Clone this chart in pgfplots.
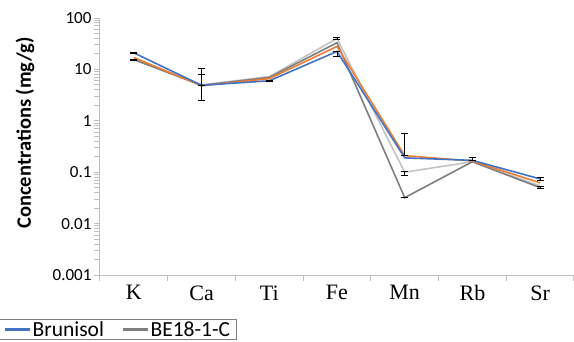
\documentclass[border=0pt]{standalone}
\usepackage{pgfplots}
\pgfplotsset{compat=1.18}
\usepackage{fontspec}
\setmainfont{Liberation Serif}
\newfontfamily\calib{Carlito}
\definecolor{cblue}{HTML}{4472C4}
\definecolor{corange}{HTML}{ED7D31}
\definecolor{cdgray}{HTML}{7F7F7F}
\definecolor{clgray}{HTML}{C3C3C3}
\definecolor{caxis}{HTML}{BFBFBF}
\begin{document}
\begin{tikzpicture}[x=1pt,y=1pt]
\begin{axis}[
  at={(0,0)}, anchor=south west,
  scale only axis, width=474pt, height=257pt,
  xmin=-0.5, xmax=6.5,
  ymode=log, ymin=0.001, ymax=100,
  axis lines*=left,
  axis line style={draw=caxis, line width=1pt},
  tick align=outside,
  xtick={0,...,6},
  xticklabels={K,Ca,Ti,Fe,Mn,Rb,Sr},
  major x tick style={draw=none},
  minor xtick={-0.5,0.5,...,6.5},
  minor x tick style={draw=caxis, line width=1pt},
  minor tick length=6pt,
  ytick={0.001,0.01,0.1,1,10,100},
  yticklabels={0.001,0.01,0.1,1,10,100},
  minor ytick={},
  y tick style={draw=caxis, line width=1pt},
  major tick length=6pt,
  xticklabel style={font=\fontsize{22}{22}\selectfont, yshift=-1pt},
  yticklabel style={font=\calib\fontsize{17}{17}\selectfont, xshift=1pt},
  ylabel={Concentrations (mg/g)},
  ylabel style={font=\calib\bfseries\fontsize{20.5}{20.5}\selectfont, at={(axis description cs:-0.158,0.553)}, anchor=center},
  legend style={at={(axis description cs:0.289,-0.171)}, anchor=north east,
    draw=gray, line width=0.8pt, font=\calib\fontsize{21.5}{21.5}\selectfont,
    inner xsep=5pt, inner ysep=0pt, legend columns=2,
    nodes={inner xsep=1.5pt},
    /tikz/every even column/.append style={column sep=16pt}},
  reverse legend,
  legend cell align=left,
  legend image code/.code={\draw[#1, line width=2.6pt] (0pt,0pt) -- (25pt,0pt);},
  every axis plot/.append style={line width=1.6pt, mark=none},
]
% light gray series
\addplot[clgray, forget plot] coordinates {(0,16) (1,5.0) (2,7.2) (3,40) (4,0.10) (5,0.16) (6,0.054)};
% dark gray series (BE18-1-C)
\addplot[cdgray] coordinates {(0,15.5) (1,4.9) (2,7.0) (3,33) (4,0.032) (5,0.16) (6,0.050)};
% orange series
\addplot[corange, forget plot] coordinates {(0,17) (1,4.8) (2,6.6) (3,28) (4,0.21) (5,0.165) (6,0.062)};
% blue series (Brunisol)
\addplot[cblue] coordinates {(0,21) (1,4.9) (2,6.0) (3,22.4) (4,0.19) (5,0.17) (6,0.074)};
\legend{BE18-1-C,Brunisol}
% error bars
\addplot[forget plot, draw=none, mark=none,
  error bars/.cd, y dir=both, y explicit,
  error bar style={draw=black, line width=0.7pt},
  error mark options={draw=black, rotate=90, mark size=3.5pt, line width=0.7pt}]
coordinates {
 (0,21) += (0,0.8) -= (0,0.8)
 (0,15.5) += (0,0.2) -= (0,0.4)
 (1,4.8) += (0,5.8) -= (0,2.3)
 (1,4.9) += (0,3.0) -= (0,0)
 (2,6.0) += (0,0) -= (0,0.2)
 (3,40) += (0,1.5) -= (0,1)
 (3,22.4) += (0,0) -= (0,4.4)
 (4,0.21) += (0,0.35) -= (0,0)
 (4,0.10) += (0,0.006) -= (0,0.014)
 (4,0.032) += (0,0) -= (0,0)
 (5,0.17) += (0,0.025) -= (0,0)
 (6,0.074) += (0,0.004) -= (0,0.003)
 (6,0.05) += (0,0.003) -= (0,0.002)
};
\end{axis}
\pgfresetboundingbox
\useasboundingbox (-100,-66) rectangle (474,275);
\end{tikzpicture}
\end{document}
